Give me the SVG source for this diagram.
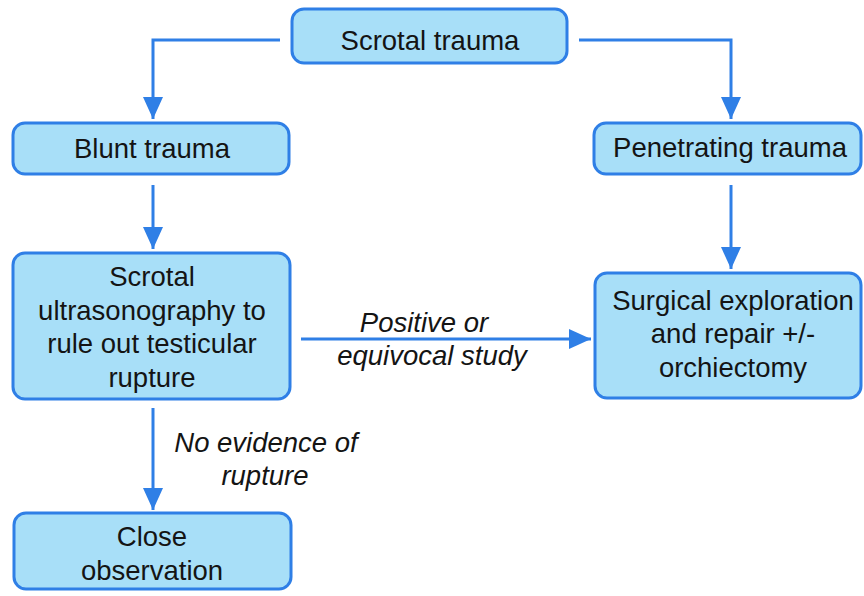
<svg xmlns="http://www.w3.org/2000/svg" width="864" height="596" viewBox="0 0 864 596">
  <style>
    .box { fill: #a8dff8; stroke: #2f7fe6; stroke-width: 3; }
    .t { font-family: "Liberation Sans", Arial, Helvetica, sans-serif; font-size: 27.5px; fill: #141414; text-anchor: middle; }
    .lbl { font-style: italic; }
    .conn { fill: none; stroke: #2f7fe6; stroke-width: 3; marker-end: url(#arr); }
  </style>
  <defs>
    <marker id="arr" viewBox="0 0 22 20" refX="22" refY="10" markerWidth="22" markerHeight="20" markerUnits="userSpaceOnUse" orient="auto">
      <path d="M0,0 L22,10 L0,20 z" fill="#2f7fe6"/>
    </marker>
  </defs>
  <rect width="864" height="596" fill="#ffffff"/>

  <g id="connectors">
    <path class="conn" d="M280,40 H153 V119"/>
    <path class="conn" d="M579,40 H731 V119"/>
    <path class="conn" d="M153,185 V249"/>
    <path class="conn" d="M731,185 V269"/>
    <path class="conn" d="M301,339 H591"/>
    <path class="conn" d="M153,408 V510"/>
  </g>

  <g id="edge-labels">
    <text class="t lbl" x="424" y="332">Positive or</text>
    <text class="t lbl" x="432" y="365">equivocal study</text>
    <text class="t lbl" x="266" y="452">No evidence of</text>
    <text class="t lbl" x="265" y="485">rupture</text>
  </g>

  <g id="scrotal-trauma">
    <rect class="box" x="292" y="9" width="275" height="54" rx="12"/>
    <text class="t" x="430" y="50">Scrotal trauma</text>
  </g>

  <g id="blunt-trauma">
    <rect class="box" x="13" y="123" width="276" height="51" rx="12"/>
    <text class="t" x="152" y="158">Blunt trauma</text>
  </g>

  <g id="penetrating-trauma">
    <rect class="box" x="594" y="123" width="267" height="51" rx="12"/>
    <text class="t" x="730" y="157">Penetrating trauma</text>
  </g>

  <g id="scrotal-ultrasonography">
    <rect class="box" x="13" y="253" width="277" height="146" rx="12"/>
    <text class="t" x="152" y="286">Scrotal</text>
    <text class="t" x="152" y="320">ultrasonography to</text>
    <text class="t" x="152" y="353">rule out testicular</text>
    <text class="t" x="152" y="387">rupture</text>
  </g>

  <g id="surgical-exploration">
    <rect class="box" x="595" y="273" width="266" height="125" rx="12"/>
    <text class="t" x="733" y="310">Surgical exploration</text>
    <text class="t" x="733" y="343">and repair +/-</text>
    <text class="t" x="733" y="377">orchiectomy</text>
  </g>

  <g id="close-observation">
    <rect class="box" x="14" y="513" width="277" height="76" rx="12"/>
    <text class="t" x="152" y="546">Close</text>
    <text class="t" x="152" y="580">observation</text>
  </g>
</svg>
